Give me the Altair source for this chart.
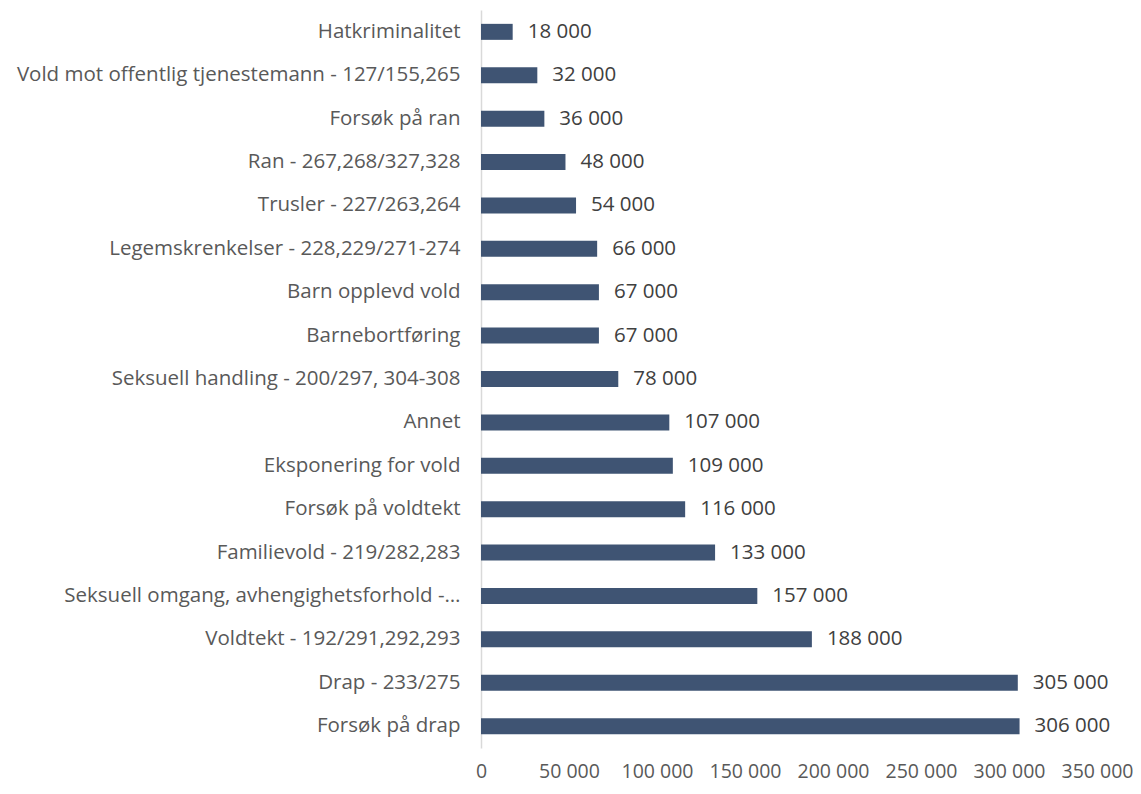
import altair as alt
import pandas as pd

categories = [
    "Hatkriminalitet",
    "Vold mot offentlig tjenestemann - 127/155,265",
    "Forsøk på ran",
    "Ran - 267,268/327,328",
    "Trusler - 227/263,264",
    "Legemskrenkelser - 228,229/271-274",
    "Barn opplevd vold",
    "Barnebortføring",
    "Seksuell handling - 200/297, 304-308",
    "Annet",
    "Eksponering for vold",
    "Forsøk på voldtekt",
    "Familievold - 219/282,283",
    "Seksuell omgang, avhengighetsforhold -…",
    "Voldtekt - 192/291,292,293",
    "Drap - 233/275",
    "Forsøk på drap",
]
values = [18000, 32000, 36000, 48000, 54000, 66000, 67000, 67000, 78000,
          107000, 109000, 116000, 133000, 157000, 188000, 305000, 306000]
x_ticks = [0, 50000, 100000, 150000, 200000, 250000, 300000, 350000]

df = pd.DataFrame({"kategori": categories, "verdi": values})
df["etikett"] = [f"{v:,}".replace(",", " ") for v in values]

FONT = "Open Sans"

y_enc = alt.Y("kategori:N", sort=categories, title=None,
              scale=alt.Scale(paddingInner=0.633, paddingOuter=0.32),
              axis=alt.Axis(ticks=False, labelPadding=21, labelFontSize=20.5,
                            labelColor="#595959", labelFont=FONT,
                            domainColor="#d9d9d9", domainWidth=1.5,
                            labelLimit=600))
x_enc = alt.X("verdi:Q", title=None,
              scale=alt.Scale(domain=[0, 350000], nice=False),
              axis=alt.Axis(values=x_ticks, grid=False, domain=False, ticks=False,
                            labelPadding=14, labelFontSize=19.5, labelColor="#595959",
                            labelFont=FONT, labelFlush=False,
                            labelExpr="replace(format(datum.value, ','), regexp(',', 'g'), ' ')"))

bars = alt.Chart(df).mark_bar(color="#3F5473", size=16).encode(x=x_enc, y=y_enc)
text = alt.Chart(df).mark_text(align="left", baseline="middle", dx=15, fontSize=20.5,
                               font=FONT, color="#404040").encode(
    x=alt.X("verdi:Q"), y=alt.Y("kategori:N", sort=categories), text="etikett:N")

chart = (bars + text).properties(
    width=616, height=738,
    autosize=alt.AutoSizeParams(type="none"),
    padding={"left": 473, "top": 2, "right": 36, "bottom": 38},
).configure(background="white").configure_view(stroke=None)

chart.save("out.html", embed_options={"renderer": "svg", "actions": False})
